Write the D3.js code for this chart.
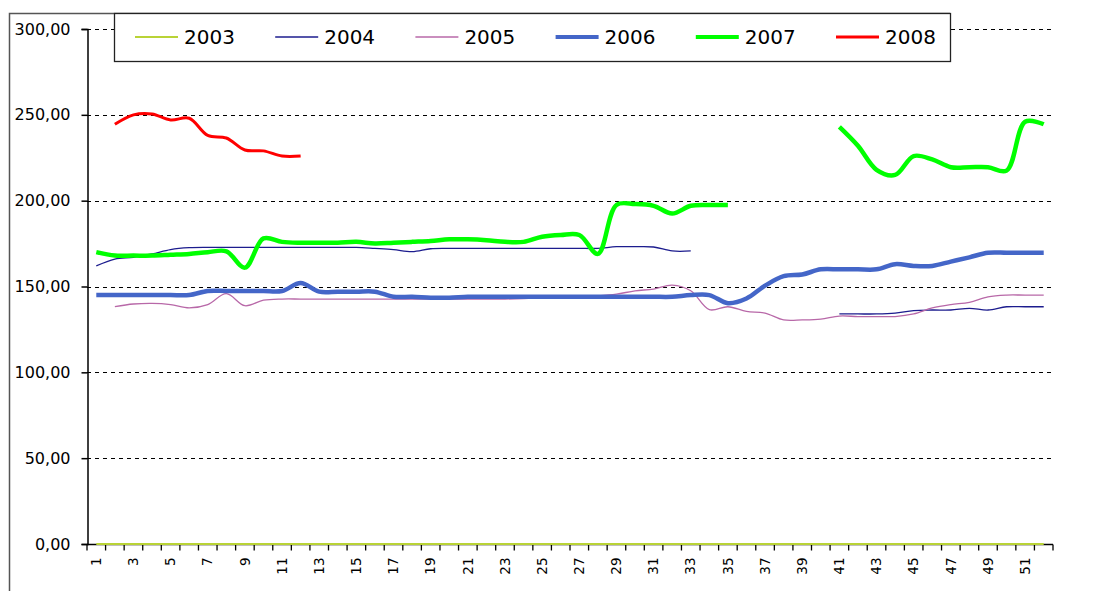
<!DOCTYPE html>
<html>
<head>
<meta charset="utf-8">
<script src="https://cdn.jsdelivr.net/npm/d3@7"></script>
<style>
    html, body { margin: 0; padding: 0; background: #fff; overflow: hidden; }
    text { font-family: 'DejaVu Sans', Verdana, sans-serif; fill: #000; }
</style>
</head>
<body>
<script>
const width = 1102
const height = 591

// weeks 1..52
const weeks = d3.range(1, 53)
const yTicks = [0, 50, 100, 150, 200, 250, 300]
const years = ['2003', '2004', '2005', '2006', '2007', '2008']
const colors = ['#b9d336', '#1c1c8e', '#b868a8', '#4466c8', '#00ff00', '#ff0000']
const widths = [2, 1.3, 1.3, 4.5, 4.5, 3]

const v2003 = [0, 0, 0, 0, 0, 0, 0, 0, 0, 0, 0, 0, 0, 0, 0, 0, 0, 0, 0, 0, 0, 0, 0, 0, 0, 0,
    0, 0, 0, 0, 0, 0, 0, 0, 0, 0, 0, 0, 0, 0, 0, 0, 0, 0, 0, 0, 0, 0, 0, 0, 0, 0]
const v2004 = [162, 166, 167, 169, 171.5, 172.6, 172.8, 172.8, 172.8, 172.8, 172.8, 172.8, 172.8,
    172.8, 172.8, 172.2, 171.5, 170.3, 172, 172.2, 172.2, 172.2, 172.2, 172.2, 172.2, 172.2,
    172.2, 172.2, 173.2, 173.2, 173, 170.7, 170.7, null, null, null, null, null, null, null,
    134, 134, 134, 134.5, 136, 136.3, 136.3, 137.3, 136.3, 138.2, 138.2, 138.2]
const v2005 = [null, 138.3, 139.8, 140.2, 139.5, 137.6, 139.5, 145.8, 138.8, 142, 142.7, 142.7, 142.7,
    142.7, 142.7, 142.7, 142.7, 142.7, 142.7, 142.7, 142.7, 142.7, 142.7, 143, 143.5, 144,
    144, 144.5, 145.5, 147.5, 148.5, 150.8, 147.5, 136.5, 138.2, 135.5, 134.5, 130.5, 130.5, 131,
    132.8, 132.5, 132.5, 132.5, 134, 137.5, 139.5, 140.8, 144, 145, 145, 145]
const v2006 = [145, 145, 145, 145, 145, 145, 147.4, 147.4, 147.4, 147.4, 147.4, 152, 147,
    147, 147, 147, 144, 144, 143.5, 143.5, 144, 144, 144, 144, 144, 144,
    144, 144, 144, 144, 144, 144, 145, 145, 140.3, 143, 150.5, 156, 157, 160,
    160, 160, 160, 163, 162, 162, 164.5, 167, 169.7, 169.7, 169.7, 169.7]
const v2007 = [170, 168, 168, 168, 168.5, 169, 170, 170.5, 161, 178, 176, 175.5, 175.5,
    175.5, 176, 175, 175.5, 176, 176.5, 177.5, 177.5, 177, 176, 176, 179, 180,
    180, 169, 197.5, 198, 197, 192.5, 197, 197.5, 197.5, null, null, null, null, null,
    243, 232, 218, 215, 226, 224, 219.5, 219.5, 219.5, 217.5, 246, 244.5]
const v2008 = [null, 244.5, 250, 250.5, 247, 248, 238, 236.5, 229.5, 229, 226, 226, null,
    null, null, null, null, null, null, null, null, null, null, null, null, null,
    null, null, null, null, null, null, null, null, null, null, null, null, null, null,
    null, null, null, null, null, null, null, null, null, null, null, null]

const seriesValues = [v2003, v2004, v2005, v2006, v2007, v2008]

const x = d3.scaleBand()
    .domain(weeks)
    .range([87, 1053])

const y = d3.scaleLinear()
    .domain([0, 300])
    .range([544, 29])

const svg = d3.select('body')
    .append('svg')
    .attr('width', width)
    .attr('height', height)

// outer frame (left and top edges are all that show)
svg.append('path')
    .attr('d', `M9.5,${height} V13.5 H950`)
    .attr('fill', 'none')
    .attr('stroke', '#555')
    .attr('stroke-width', 1.5)

// gridlines
svg.append('g')
    .selectAll('line')
    .data(yTicks.filter(d => d > 0))
    .enter()
    .append('line')
    .attr('x1', 87)
    .attr('x2', 1055)
    .attr('y1', d => Math.round(y(d)) + 0.5)
    .attr('y2', d => Math.round(y(d)) + 0.5)
    .attr('stroke', '#000')
    .attr('stroke-dasharray', '4,4')
    .attr('shape-rendering', 'crispEdges')

// y axis
const yAxis = svg.append('g')
    .attr('transform', 'translate(87.5,0)')
    .call(d3.axisLeft(y)
        .tickValues(yTicks)
        .tickSize(6)
        .tickPadding(11)
        .tickFormat(d => d3.format('.2f')(d).replace('.', ',')))
yAxis.select('.domain').attr('stroke', '#000').attr('stroke-width', 1.5)
yAxis.selectAll('.tick line').attr('stroke', '#000').attr('stroke-width', 1.5)
yAxis.selectAll('text')
    .attr('font-size', '16px')
    .attr('fill', '#1a1a1a')
    .style('font-family', "'DejaVu Sans', Verdana, sans-serif")

// x axis: ticks at category boundaries, labels on odd weeks
const xAxis = svg.append('g')
    .attr('transform', 'translate(0,544.5)')
xAxis.append('line')
    .attr('x1', 87)
    .attr('x2', 1053)
    .attr('stroke', '#000')
    .attr('stroke-width', 1.5)
xAxis.selectAll('line.tick')
    .data([0].concat(weeks))
    .enter()
    .append('line')
    .attr('class', 'tick')
    .attr('x1', d => d === 0 ? x.range()[0] : x(d) + x.bandwidth())
    .attr('x2', d => d === 0 ? x.range()[0] : x(d) + x.bandwidth())
    .attr('y1', 0)
    .attr('y2', 6)
    .attr('stroke', '#000')
    .attr('stroke-width', 1.3)
xAxis.selectAll('text')
    .data(weeks.filter(d => d % 2 === 1))
    .enter()
    .append('text')
    .attr('transform', d => `translate(${x(d) + x.bandwidth() / 2},13) rotate(-90)`)
    .attr('text-anchor', 'end')
    .attr('dy', '0.35em')
    .attr('font-size', '13.5px')
    .attr('fill', '#1a1a1a')
    .text(d => d)

// series lines
const line = d3.line()
    .defined(d => d.v !== null)
    .x(d => x(d.w) + x.bandwidth() / 2)
    .y(d => y(d.v))
    .curve(d3.curveCatmullRom)

svg.append('g')
    .selectAll('path')
    .data(seriesValues.map((vals, i) => ({
        year: years[i],
        color: colors[i],
        sw: widths[i],
        pts: vals.map((v, j) => ({w: weeks[j], v: v}))
    })))
    .enter()
    .append('path')
    .attr('fill', 'none')
    .attr('stroke', d => d.color)
    .attr('stroke-width', d => d.sw)
    .attr('stroke-linejoin', 'round')
    .attr('d', d => line(d.pts))

// legend
const legend = svg.append('g')
legend.append('rect')
    .attr('x', 114.5)
    .attr('y', 13.5)
    .attr('width', 836)
    .attr('height', 48)
    .attr('fill', '#fff')
    .attr('stroke', '#222')
    .attr('stroke-width', 1.3)

const items = legend.selectAll('g.item')
    .data(years)
    .enter()
    .append('g')
    .attr('class', 'item')
    .attr('transform', (d, i) => `translate(${135 + i * 140.2},37)`)

items.append('line')
    .attr('x1', 0)
    .attr('x2', 43)
    .attr('stroke', (d, i) => colors[i])
    .attr('stroke-width', (d, i) => Math.min(widths[i], 4))

items.append('text')
    .attr('x', 49)
    .attr('dy', '0.36em')
    .attr('font-size', '20px')
    .attr('fill', '#1a1a1a')
    .text(d => d)
</script>
</body>
</html>
